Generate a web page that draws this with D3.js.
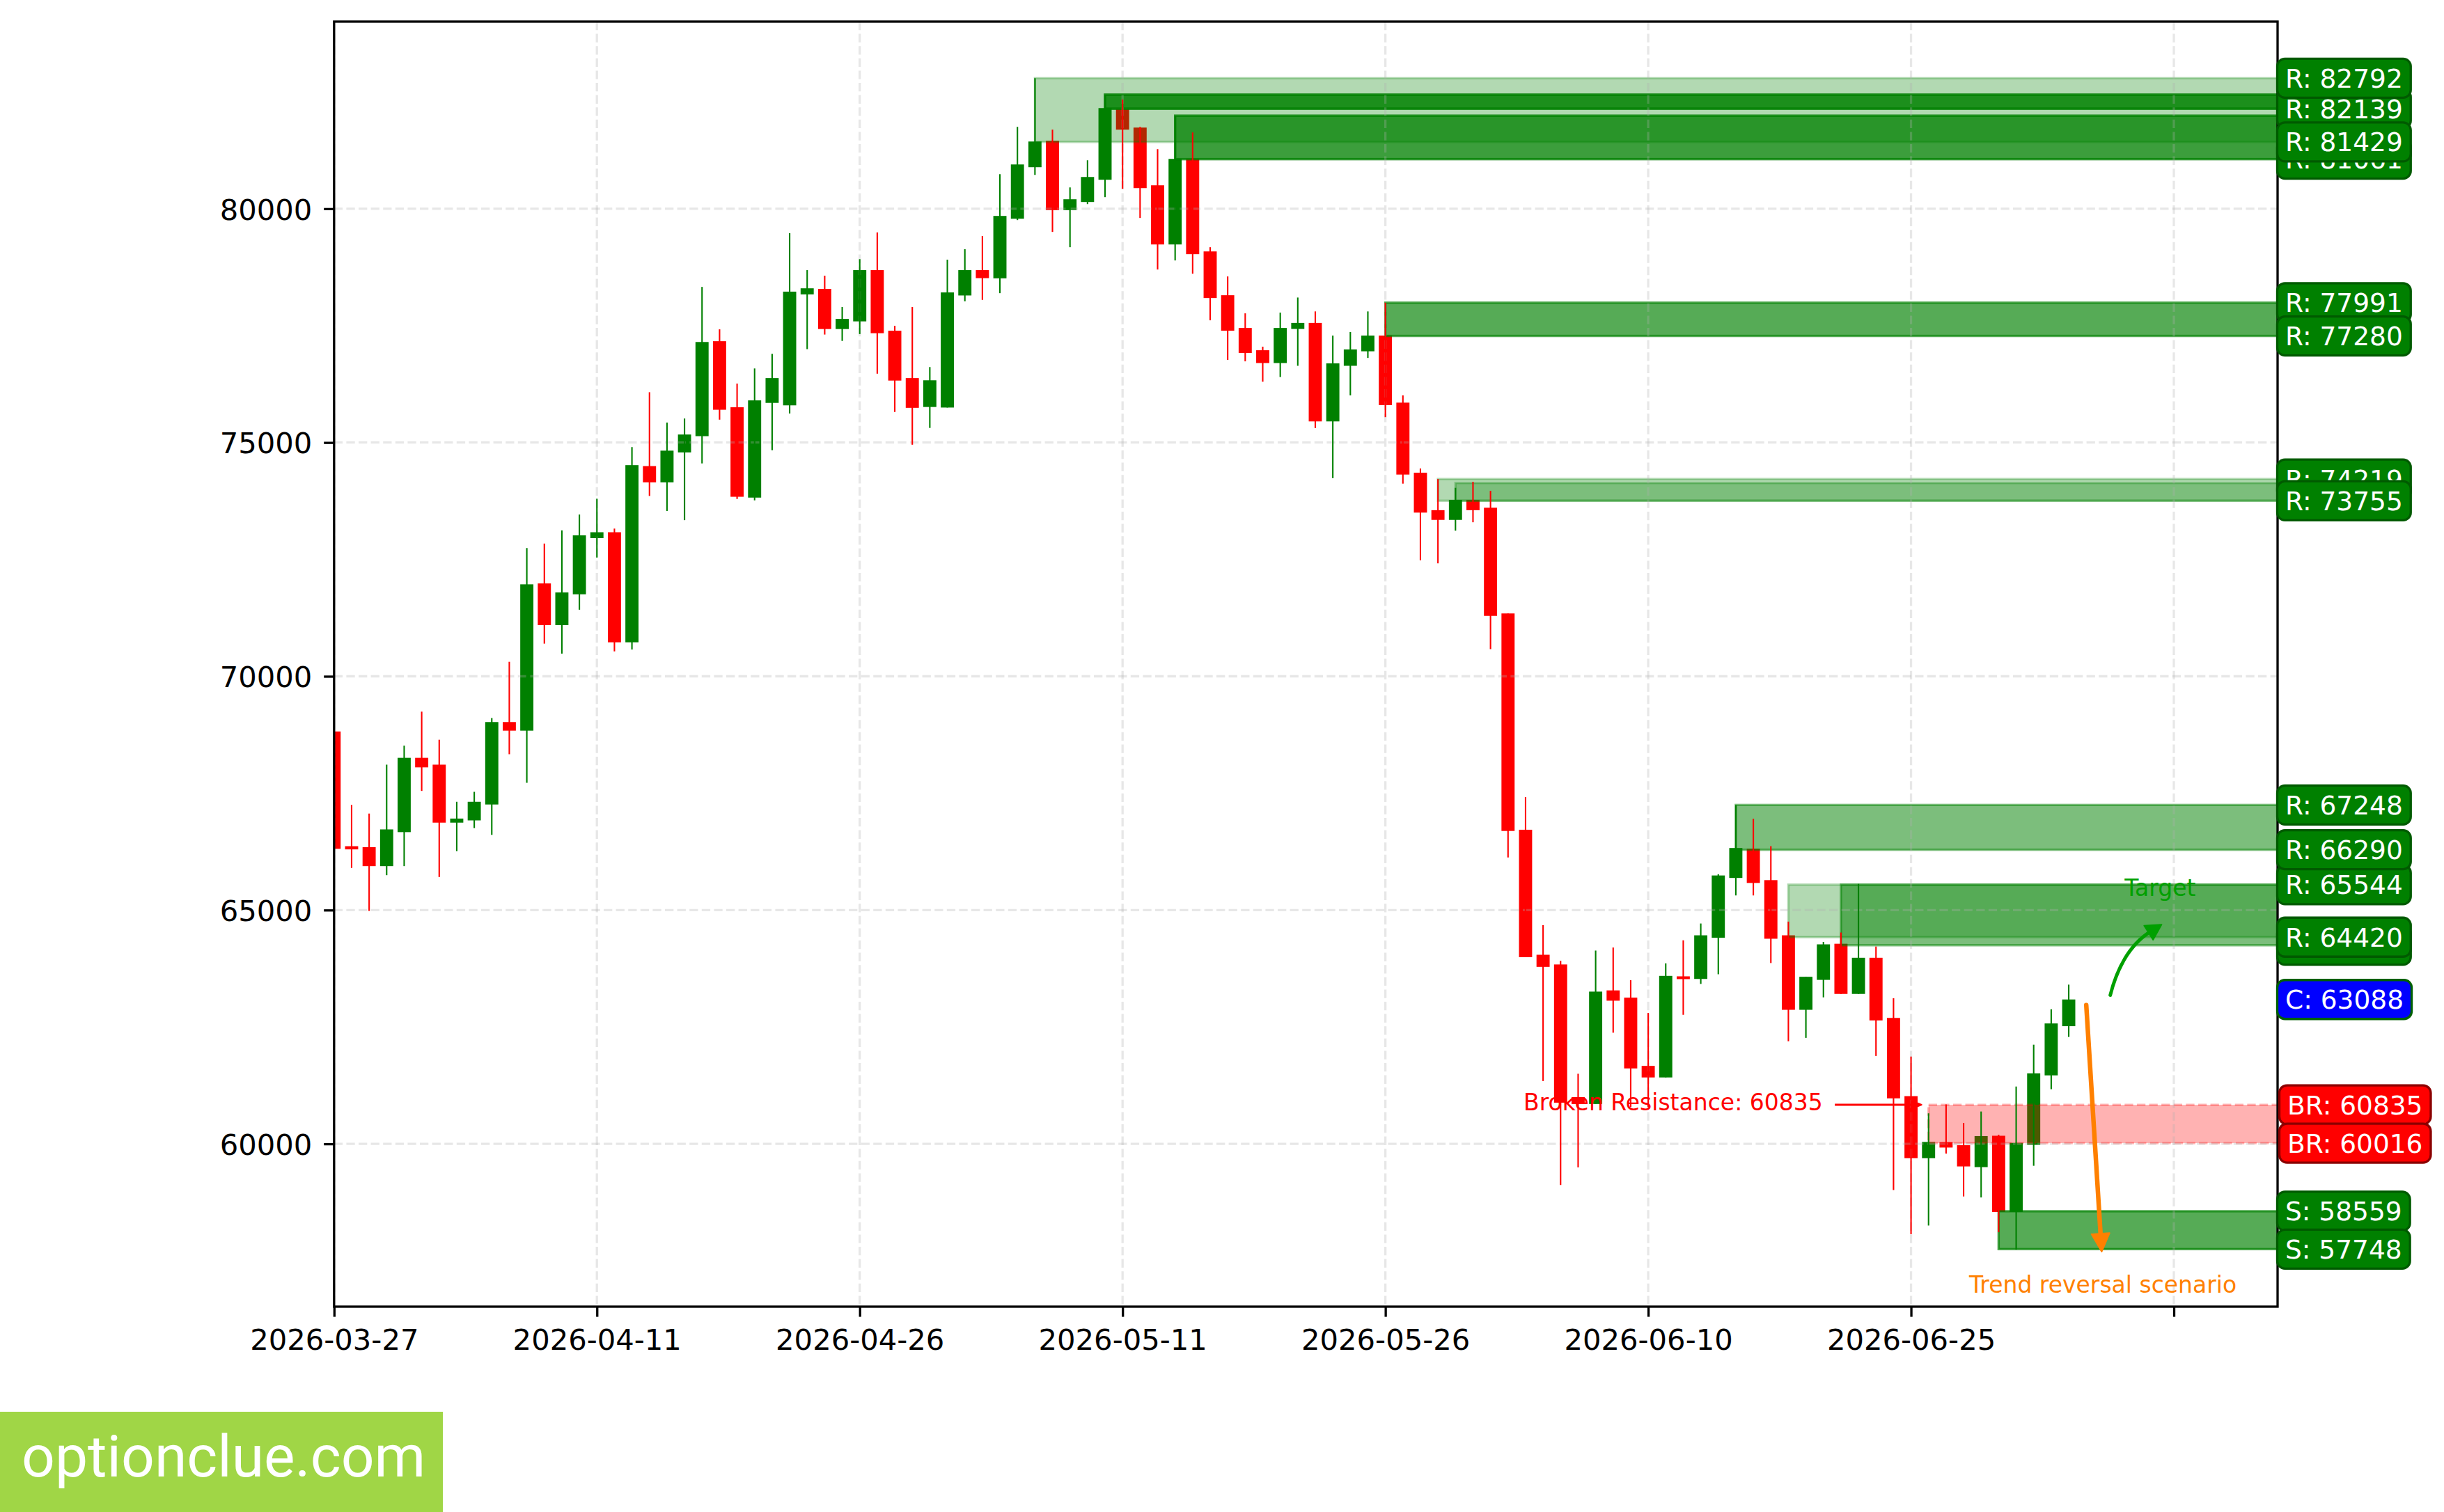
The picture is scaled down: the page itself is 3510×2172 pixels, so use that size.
<!DOCTYPE html>
<html>
<head>
<meta charset="utf-8">
<script src="https://cdn.jsdelivr.net/npm/d3@7"></script>
<style>
  body { margin: 0; background: #ffffff; }
  svg { display: block; }
</style>
</head>
<body>
<svg id="chart" width="3510" height="2172"></svg>
<script>
// ---------------- DATA ----------------
const startDate = "2026-03-27";
const opens = [68820,66366,66346,65940,66667,68256,68110,66870,66918,67258,
  69021,68837,71986,71095,71754,72955,73081,70727,74496,74147,
  74788,75136,77167,75754,73822,75848,75795,78168,78286,77427,
  77591,78687,77391,76378,75760,75748,78145,78687,78512,79787,
  80888,81453,79970,80144,80620,82133,81736,80501,79236,81066,
  79087,78150,77450,76974,76700,77429,77558,75452,76641,76951,
  77287,75853,74354,73553,73346,73773,73605,71344,66718,64044,
  63837,61000,60853,63282,63127,61667,61420,63573,63527,64407,
  65687,66313,65640,64460,62867,63507,64280,63207,63980,62693,
  61020,59693,60036,59971,59502,60173,58543,59978,61464,62517];
const highs = [68900,67248,67064,68110,68517,69244,68643,67316,67529,69108,
  70310,72742,72839,73120,73459,73798,73159,74903,76076,75426,
  75513,78328,77421,76261,76584,76897,79476,78687,78569,77898,
  78922,79494,77497,77898,76614,78911,79134,79417,80739,81751,
  82792,81691,80456,81037,82440,82336,81751,81275,81990,81632,
  79177,78552,77763,77050,77778,78101,77804,77287,77364,77804,
  77991,76008,74444,74219,74031,74160,73966,71344,67416,64677,
  63915,61499,64134,64199,63500,62800,63860,64353,64713,65767,
  67248,66953,66367,64753,63573,64320,64520,65560,64220,63113,
  61867,60653,60844,60447,60692,60195,61226,62121,62878,63405];
const lows = [66200,65901,64981,65746,65940,67548,65707,66260,66754,66608,
  68333,67723,70698,70485,71424,72539,70533,70572,73857,73537,
  73340,74553,75489,73793,73763,74835,75619,76997,77309,77173,
  77320,76472,75654,74953,75312,75748,78021,78051,78194,79757,
  80724,79504,79177,80099,80248,80427,79802,78700,78894,78611,
  77614,76766,76736,76300,76400,76641,75310,74238,76008,76809,
  75543,74121,72481,72416,73114,73295,70581,66124,63992,61344,
  59121,59496,60853,62377,60787,60787,61420,62760,63420,63627,
  65313,65313,63867,62193,62267,63133,63207,63207,61880,59013,
  58067,58253,59791,58875,58853,58110,57742,59531,61168,62287];
const closes = [66310,66298,65940,66725,68256,68052,66870,66957,67316,69021,
  68837,71967,71095,71793,73014,73081,70727,74516,74147,74826,
  75171,77150,75701,73840,75901,76378,78227,78298,77427,77644,
  78687,77338,76325,75742,76331,78210,78687,78516,79846,80947,
  81438,79970,80203,80679,82153,81691,80441,79236,81066,79028,
  78090,77391,76915,76700,77450,77558,75452,76693,76990,77287,
  75801,74315,73501,73346,73773,73553,71292,66692,63992,63786,
  60880,60850,63256,63062,61613,61420,63593,63533,64460,65740,
  66327,65580,64387,62867,63573,64267,63207,63980,62640,60973,
  59693,60040,59921,59517,60166,58543,60022,61507,62575,63088];

// x ticks
const xTickDates = ["2026-03-27","2026-04-11","2026-04-26","2026-05-11","2026-05-26","2026-06-10","2026-06-25","2026-07-10"];
const xTickLabels = ["2026-03-27","2026-04-11","2026-04-26","2026-05-11","2026-05-26","2026-06-10","2026-06-25",""];
const yTicks = [60000, 65000, 70000, 75000, 80000];

// zones (start candle index, top, bottom, number of stacked layers)
const zoneStart  = [40, 44, 48, 60, 63, 64, 80, 83, 86, 95];
const zoneTop    = [82792, 82440, 81990, 77991, 74219, 74134, 67248, 65544, 65544, 58559];
const zoneBottom = [81429, 82139, 81061, 77280, 73755, 73755, 66290, 64420, 64248, 57748];
const zoneLayers = [1, 5, 4, 3, 1, 1, 2, 1, 2, 3];

// broken resistance zone
const brokenStart = 91, brokenTop = 60835, brokenBottom = 60016;

// right-side level labels (drawn in this order)
const labelTexts  = ["R: 82139","R: 81061","R: 82792","R: 81429","R: 77991","R: 77280","R: 74219","R: 73755",
  "R: 67248","R: 65544","R: 66290","R: 64248","R: 64420","C: 63088","BR: 60835","BR: 60016","S: 58559","S: 57748"];
const labelValues = [82139,81061,82792,81429,77991,77280,74219,73755,67248,65544,66290,64248,64420,63088,60835,60016,58559,57748];
const labelKinds  = ["R","R","R","R","R","R","R","R","R","R","R","R","R","C","BR","BR","S","S"];

// annotations (x in candle-index units from start date, y in price)
const brokenText = "Broken Resistance: 60835";
const brokenArrow = {x0: 85.65, x1: 90.6, y: 60835, textX: 84.96};
const targetText = "Target";
const targetArrow = {x0: 101.37, y0: 63180, x1: 104.3, y1: 64690, textX: 104.22, textY: 65307};
const reversalText = "Trend reversal scenario";
const reversalArrow = {x0: 100.0, y0: 62970, x1: 100.88, y1: 57693, textX: 100.95, textY: 56810};

const watermarkText = "optionclue.com";

// ---------------- CHART ----------------
const svg = d3.select("#chart");
const W = 3510, H = 2172;
const plot = {left: 479.8, right: 3271, top: 31, bottom: 1877};
const DAY = 864e5;
const t0 = d3.utcParse("%Y-%m-%d")(startDate);
const dates = d3.utcDays(t0, d3.utcDay.offset(t0, opens.length));
const idxDate = v => new Date(t0.getTime() + v * DAY);

const x = d3.scaleUtc().domain([t0, idxDate(110.92)]).range([plot.left, plot.right]);
const y = d3.scaleLinear().domain([56518, 84003]).range([plot.bottom, plot.top]);

svg.append("rect").attr("width", W).attr("height", H).attr("fill", "#ffffff");

const defs = svg.append("defs");
defs.append("clipPath").attr("id", "clip").append("rect")
  .attr("x", plot.left).attr("y", plot.top)
  .attr("width", plot.right - plot.left).attr("height", plot.bottom - plot.top);

const candles = dates.map((d, i) => ({date: d, o: opens[i], h: highs[i], l: lows[i], c: closes[i]}));
const GREEN = "#008000", RED = "#ff0000";
const bodyW = x(idxDate(0.75)) - x(t0);

const g = svg.append("g").attr("clip-path", "url(#clip)");

// candle bodies (below zones)
g.append("g").selectAll("rect").data(candles).join("rect")
  .attr("x", d => x(d.date) - bodyW / 2)
  .attr("width", bodyW)
  .attr("y", d => Math.min(y(d.o), y(d.c)) - (Math.abs(y(d.o) - y(d.c)) < 4 ? (4 - Math.abs(y(d.o) - y(d.c))) / 2 : 0))
  .attr("height", d => Math.max(4, Math.abs(y(d.o) - y(d.c))))
  .attr("fill", d => d.c >= d.o ? GREEN : RED);

// zones
const zoneRects = [];
zoneStart.forEach((s, i) => {
  for (let k = 0; k < zoneLayers[i]; k++) zoneRects.push({s, top: zoneTop[i], bottom: zoneBottom[i]});
});
g.append("g").selectAll("rect").data(zoneRects).join("rect")
  .attr("x", d => x(dates[d.s]))
  .attr("width", d => plot.right + 50 - x(dates[d.s]))
  .attr("y", d => y(d.top))
  .attr("height", d => y(d.bottom) - y(d.top))
  .attr("fill", GREEN).attr("fill-opacity", 0.3)
  .attr("stroke", GREEN).attr("stroke-opacity", 0.3).attr("stroke-width", 3.3);

// broken resistance zone
g.append("rect")
  .attr("x", x(dates[brokenStart]))
  .attr("width", plot.right + 50 - x(dates[brokenStart]))
  .attr("y", y(brokenTop)).attr("height", y(brokenBottom) - y(brokenTop))
  .attr("fill", RED).attr("fill-opacity", 0.3)
  .attr("stroke", RED).attr("stroke-opacity", 0.3).attr("stroke-width", 3.3)
  .attr("stroke-dasharray", "12.3,5.3");

// grid
const grid = g.append("g").attr("stroke", "#b0b0b0").attr("stroke-opacity", 0.3)
  .attr("stroke-width", 3.3).attr("stroke-dasharray", "12.3,5.3");
grid.selectAll("line.h").data(yTicks).join("line").attr("class", "h")
  .attr("x1", plot.left).attr("x2", plot.right).attr("y1", d => y(d)).attr("y2", d => y(d));
grid.selectAll("line.v").data(xTickDates).join("line").attr("class", "v")
  .attr("x1", d => x(d3.utcParse("%Y-%m-%d")(d))).attr("x2", d => x(d3.utcParse("%Y-%m-%d")(d)))
  .attr("y1", plot.top).attr("y2", plot.bottom);

// wicks (above zones)
g.append("g").selectAll("line").data(candles).join("line")
  .attr("x1", d => x(d.date)).attr("x2", d => x(d.date))
  .attr("y1", d => y(d.h)).attr("y2", d => y(d.l))
  .attr("stroke", d => d.c >= d.o ? GREEN : RED).attr("stroke-width", 2.1);

// ---- annotations ----
function arrowHead(sel, xTip, yTip, angle, len, width, color) {
  const ca = Math.cos(angle), sa = Math.sin(angle);
  const bx = xTip - len * ca, by = yTip - len * sa;
  const px = -sa * width / 2, py = ca * width / 2;
  sel.append("path")
    .attr("d", `M${xTip},${yTip}L${bx + px},${by + py}L${bx - px},${by - py}Z`)
    .attr("fill", color).attr("stroke", color).attr("stroke-width", 2).attr("stroke-linejoin", "round");
}
const ann = svg.append("g");

// Broken resistance arrow + text
{
  const x0 = x(idxDate(brokenArrow.x0)), x1 = x(idxDate(brokenArrow.x1)), yy = y(brokenArrow.y);
  ann.append("line").attr("x1", x0).attr("x2", x1 - 8).attr("y1", yy).attr("y2", yy)
    .attr("stroke", RED).attr("stroke-width", 3);
  arrowHead(ann, x1, yy, 0, 14, 11, RED);
  ann.append("text").attr("x", x(idxDate(brokenArrow.textX))).attr("y", yy + 7.8)
    .attr("text-anchor", "end").attr("font-family", "DejaVu Sans").attr("font-size", 33)
    .attr("fill", RED).text(brokenText);
}

// Target curved arrow
{
  const TG = "#00a000";
  const sx = x(idxDate(targetArrow.x0)), sy = y(targetArrow.y0);
  const ex = x(idxDate(targetArrow.x1)), ey = y(targetArrow.y1);
  const mx = (sx + ex) / 2, my = (sy + ey) / 2;
  const dx = ex - sx, dy = ey - sy;
  const rad = 0.2;
  const cx = mx + rad * dy, cy = my - rad * dx;
  const ang = Math.atan2(ey - cy, ex - cx);
  const hl = 22;
  const lx = ex - (hl - 4) * Math.cos(ang), ly = ey - (hl - 4) * Math.sin(ang);
  ann.append("path").attr("d", `M${sx},${sy}Q${cx},${cy} ${lx},${ly}`)
    .attr("fill", "none").attr("stroke", TG).attr("stroke-width", 5).attr("stroke-linecap", "round");
  arrowHead(ann, ex, ey, ang, hl, 24, TG);
  ann.append("text").attr("x", x(idxDate(targetArrow.textX))).attr("y", y(targetArrow.textY))
    .attr("text-anchor", "middle").attr("font-family", "DejaVu Sans").attr("font-size", 33)
    .attr("fill", TG).text(targetText);
}

// Trend reversal arrow
{
  const OR = "#ff8000";
  const sx = x(idxDate(reversalArrow.x0)), sy = y(reversalArrow.y0);
  const ex = x(idxDate(reversalArrow.x1)), ey = y(reversalArrow.y1);
  const ang = Math.atan2(ey - sy, ex - sx);
  const hl = 26;
  ann.append("line").attr("x1", sx).attr("y1", sy)
    .attr("x2", ex - (hl - 4) * Math.cos(ang)).attr("y2", ey - (hl - 4) * Math.sin(ang))
    .attr("stroke", OR).attr("stroke-width", 6.5).attr("stroke-linecap", "round");
  arrowHead(ann, ex, ey, ang, hl, 26, OR);
  ann.append("text").attr("x", x(idxDate(reversalArrow.textX))).attr("y", y(reversalArrow.textY))
    .attr("text-anchor", "middle").attr("font-family", "DejaVu Sans").attr("font-size", 33)
    .attr("fill", OR).text(reversalText);
}

// ---- spines ----
svg.append("rect").attr("x", plot.left).attr("y", plot.top)
  .attr("width", plot.right - plot.left).attr("height", plot.bottom - plot.top)
  .attr("fill", "none").attr("stroke", "#000").attr("stroke-width", 3.3);

// ---- axes ----
const xAxis = d3.axisBottom(x)
  .tickValues(xTickDates.map(d3.utcParse("%Y-%m-%d")))
  .tickFormat((d, i) => xTickLabels[i])
  .tickSize(14.6).tickSizeOuter(0);
const gx = svg.append("g").attr("transform", `translate(0,${plot.bottom})`).call(xAxis);
gx.select(".domain").remove();
gx.selectAll(".tick line").attr("stroke", "#000").attr("stroke-width", 3.3);
gx.selectAll(".tick text").attr("y", 62).attr("dy", 0)
  .attr("font-family", "DejaVu Sans").attr("font-size", 41.7).attr("fill", "#000");

const yAxis = d3.axisLeft(y).tickValues(yTicks).tickFormat(d3.format("d"))
  .tickSize(14.6).tickSizeOuter(0);
const gy = svg.append("g").attr("transform", `translate(${plot.left},0)`).call(yAxis);
gy.select(".domain").remove();
gy.selectAll(".tick line").attr("stroke", "#000").attr("stroke-width", 3.3);
gy.selectAll(".tick text").attr("x", -31.5).attr("dy", 15.2)
  .attr("font-family", "DejaVu Sans").attr("font-size", 41.7).attr("fill", "#000");

// ---- right level labels ----
const fills = {R: GREEN, S: GREEN, C: "#0000ff", BR: RED};
const edges = {R: "#005a00", S: "#005a00", C: "#006000", BR: "#8b0000"};
const lab = svg.append("g");
labelTexts.forEach((t, i) => {
  const kind = labelKinds[i];
  const tx = plot.right + (kind === "BR" ? 14 : 11);
  const cy = y(labelValues[i]);
  const grp = lab.append("g");
  const txt = grp.append("text").attr("x", tx).attr("y", cy + 13.5)
    .attr("font-family", "DejaVu Sans").attr("font-size", 37.5).attr("fill", "#fff").text(t);
  const w = txt.node().getComputedTextLength();
  const padX = 11.5, hh = 28;
  grp.insert("rect", "text")
    .attr("x", tx - padX).attr("y", cy - hh).attr("width", w + 2 * padX).attr("height", 2 * hh)
    .attr("rx", 11).attr("ry", 11)
    .attr("fill", fills[kind]).attr("stroke", edges[kind]).attr("stroke-width", 3.3);
});

// ---- watermark ----
svg.append("rect").attr("x", 0).attr("y", 2028).attr("width", 636).attr("height", H - 2028).attr("fill", "#a0d646");
svg.append("text").attr("x", 31).attr("y", 2121)
  .attr("font-family", "Roboto").attr("font-size", 84).attr("fill", "#ffffff").text(watermarkText);
</script>
</body>
</html>
